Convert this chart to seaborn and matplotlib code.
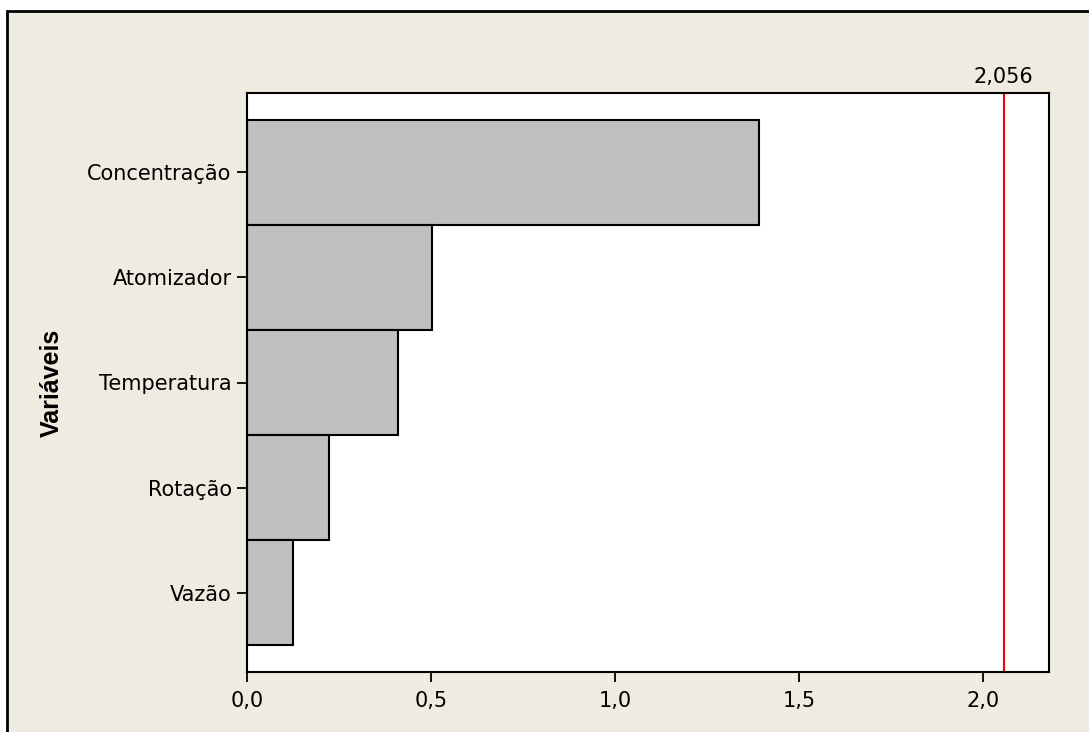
import matplotlib
matplotlib.use('Agg')
import matplotlib.pyplot as plt
import matplotlib.patches as mpatches
from matplotlib.ticker import FuncFormatter
import pandas as pd
import seaborn as sns

variaveis = ['Concentração', 'Atomizador', 'Temperatura', 'Rotação', 'Vazão']
efeitos = [1.391, 0.503, 0.410, 0.223, 0.125]
limite = 2.056
xticks = [0.0, 0.5, 1.0, 1.5, 2.0]

sns.set_style('white')
plt.rcParams['font.family'] = ['DejaVu Sans']

df = pd.DataFrame({'var': variaveis, 'efeito': efeitos})

fig = plt.figure(figsize=(10.89, 7.32), dpi=100, facecolor='white')
# fundo bege com moldura (cortada a direita/embaixo como no original)
fig.patches.append(mpatches.Rectangle((7 / 1089, -0.1), 1.2, 1.1 - 11 / 732,
                                      transform=fig.transFigure,
                                      facecolor='#EFEBE1', edgecolor='black',
                                      linewidth=2, zorder=-10))
ax = fig.add_axes([247 / 1089, 1 - 672 / 732, (1049 - 247) / 1089, (672 - 93) / 732])
ax.set_facecolor('white')

sns.barplot(data=df, x='efeito', y='var', orient='h', color='#C0C0C0',
            edgecolor='black', linewidth=1.5, width=1.0, saturation=1, ax=ax)
ax.axvline(limite, color='red', linewidth=1.5)
ax.text(limite, 1.01, '2,056', transform=ax.get_xaxis_transform(),
        ha='center', va='bottom', fontsize=15, color='black')

ax.set_xlim(0, 2.179)
ax.set_ylim(4.757, -0.757)
ax.set_xticks(xticks)
ax.xaxis.set_major_formatter(FuncFormatter(lambda v, p: f'{v:.1f}'.replace('.', ',')))
ax.tick_params(axis='both', direction='out', length=7, width=1.3, labelsize=15,
               bottom=True, left=True, colors='black', pad=4)
ax.tick_params(axis='x', pad=7)
ax.set_xlabel('')
ax.set_ylabel('Variáveis', fontsize=18, fontweight='bold', color='black',
              family=['Liberation Sans', 'DejaVu Sans'])
ax.yaxis.set_label_coords(-0.229, 0.5)
for s in ax.spines.values():
    s.set_visible(True)
    s.set_color('black')
    s.set_linewidth(1.5)

fig.savefig('out.png', dpi=100, facecolor=fig.get_facecolor())
